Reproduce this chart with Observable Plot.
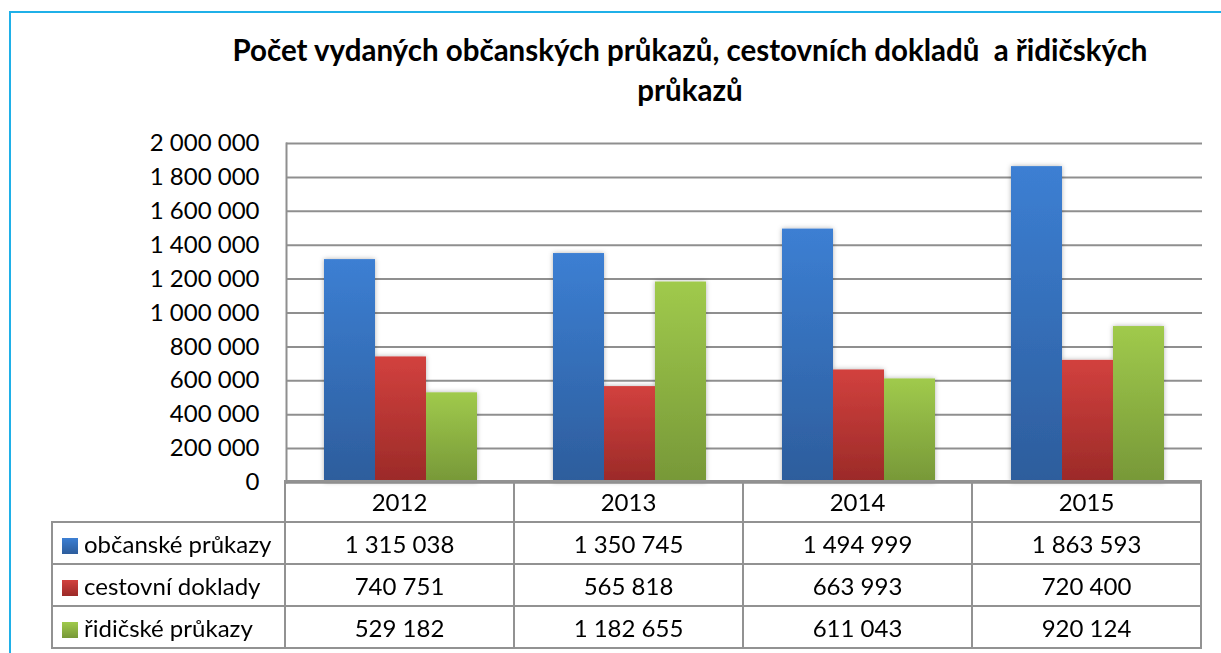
<!DOCTYPE html>
<html>
<head>
<meta charset="utf-8">
<script src="https://cdn.jsdelivr.net/npm/d3@7"></script>
<script src="https://cdn.jsdelivr.net/npm/@observablehq/plot@0.6"></script>
<style>
  html, body { margin: 0; padding: 0; background: #fff; width: 1221px; height: 653px; overflow: hidden; }
  body { position: relative; font-family: Lato, "Open Sans", sans-serif; color: #000; }
  #border { position: absolute; left: 9px; top: 11px; width: 1300px; height: 700px;
            border-left: 2px solid #1fb0e8; border-top: 2px solid #1fb0e8; }
  #title { position: absolute; left: 190px; width: 1000px; top: 30px; text-align: center;
           font-weight: bold; font-size: 29.5px; line-height: 40px; white-space: nowrap; }
  #chart { position: absolute; left: 0; top: 123px; }
  #table { position: absolute; border-collapse: collapse; table-layout: fixed; font-size: 24px; }
  #table td { border: 2px solid #929292; text-align: center; padding: 0; height: 40px; white-space: nowrap; }
  #table tr.hdr td { height: 39px; }
  #table td.lab { text-align: left; padding-left: 9px; }
  #table td.empty { border-top: none; border-left: none; }
  .sw { display: inline-block; width: 16px; height: 16px; margin-right: 6px; vertical-align: -1px; }
</style>
</head>
<body>
<div id="border"></div>
<div id="title">Počet vydaných občanských průkazů, cestovních dokladů&nbsp; a řidičských<br>průkazů</div>
<div id="chart"></div>
<table id="table"></table>
<script>
const years = ["2012", "2013", "2014", "2015"];
const series = ["občanské průkazy", "cestovní doklady", "řidičské průkazy"];
const obcanske = [1315038, 1350745, 1494999, 1863593];
const cestovni = [740751, 565818, 663993, 720400];
const ridicske = [529182, 1182655, 611043, 920124];
const yTicks = [0, 200000, 400000, 600000, 800000, 1000000, 1200000, 1400000, 1600000, 1800000, 2000000];

const gradients = [
  {id: "gBlue", top: "#3c7fd3", bottom: "#2d5d9c"},
  {id: "gRed", top: "#d2413e", bottom: "#9b2a28"},
  {id: "gGreen", top: "#a0ca4c", bottom: "#779838"}
];

const values = [obcanske, cestovni, ridicske];
const data = years.flatMap((yr, i) => series.map((s, j) => ({year: yr, series: s, value: values[j][i]})));
const fmt = d => d3.format(",")(d).replace(/,/g, " ");

const plot = Plot.plot({
  width: 1221,
  height: 360,
  marginLeft: 285,
  marginRight: 19,
  marginTop: 20,
  marginBottom: 1,
  style: {fontFamily: "Lato, 'Open Sans', sans-serif", fontSize: "24px", color: "#000", background: "transparent", overflow: "visible"},
  fx: {domain: years, padding: 0, axis: null},
  x: {domain: series, paddingInner: 0, paddingOuter: 0.72, axis: null},
  y: {domain: [0, 2000000]},
  color: {domain: series, range: gradients.map(g => `url(#${g.id})`)},
  marks: [
    Plot.gridY(yTicks, {stroke: "#8f8f8f", strokeOpacity: 1, strokeWidth: 2}),
    Plot.axisY(yTicks, {tickSize: 0, tickPadding: 27, tickFormat: fmt, fill: "#000", label: null}),
    Plot.barY(data, {fx: "year", x: "series", y: "value", fill: "series"}),
    Plot.ruleY([0], {stroke: "#8f8f8f", strokeWidth: 2}),
    Plot.frame({anchor: "left", facetAnchor: "left", stroke: "#8f8f8f", strokeWidth: 2})
  ]
});

// gradient & shadow defs
const ns = "http://www.w3.org/2000/svg";
const defs = document.createElementNS(ns, "defs");
gradients.forEach(g => {
  const lg = document.createElementNS(ns, "linearGradient");
  lg.setAttribute("id", g.id);
  lg.setAttribute("x1", "0"); lg.setAttribute("y1", "0");
  lg.setAttribute("x2", "0"); lg.setAttribute("y2", "1");
  [[0, g.top], [1, g.bottom]].forEach(([o, c]) => {
    const st = document.createElementNS(ns, "stop");
    st.setAttribute("offset", o); st.setAttribute("stop-color", c);
    lg.appendChild(st);
  });
  defs.appendChild(lg);
});
const filt = document.createElementNS(ns, "filter");
filt.setAttribute("id", "shadow");
filt.setAttribute("x", "-20%"); filt.setAttribute("y", "-5%");
filt.setAttribute("width", "140%"); filt.setAttribute("height", "110%");
const ds = document.createElementNS(ns, "feDropShadow");
ds.setAttribute("dx", "0"); ds.setAttribute("dy", "0");
ds.setAttribute("stdDeviation", "2.5"); ds.setAttribute("flood-opacity", "0.3");
filt.appendChild(ds);
defs.appendChild(filt);
plot.insertBefore(defs, plot.firstChild);
plot.querySelectorAll('g[aria-label="bar"]').forEach(g => g.setAttribute("filter", "url(#shadow)"));
document.getElementById("chart").appendChild(plot);

// data table aligned with the fx scale
const fx = plot.scale("fx");
const step = fx.bandwidth ?? ((fx.range[1] - fx.range[0]) / years.length);
const left0 = fx.range[0];
const table = document.getElementById("table");
const firstW = left0 - 52;
table.style.left = (52 - 1) + "px";
table.style.top = (123 + 360 - 1 - 1 - 1) + "px";
const colgroup = document.createElement("colgroup");
[firstW, ...years.map(() => step)].forEach(w => {
  const c = document.createElement("col"); c.style.width = w + "px"; colgroup.appendChild(c);
});
table.appendChild(colgroup);
table.style.width = (firstW + step * years.length) + "px";
const hdr = document.createElement("tr"); hdr.className = "hdr";
const e = document.createElement("td"); e.className = "empty"; hdr.appendChild(e);
years.forEach(y => { const td = document.createElement("td"); td.textContent = y; hdr.appendChild(td); });
table.appendChild(hdr);
series.forEach((s, j) => {
  const tr = document.createElement("tr");
  const lab = document.createElement("td"); lab.className = "lab";
  const sw = document.createElement("span"); sw.className = "sw";
  sw.style.background = `linear-gradient(${gradients[j].top}, ${gradients[j].bottom})`;
  lab.appendChild(sw); lab.appendChild(document.createTextNode(s));
  tr.appendChild(lab);
  values[j].forEach(v => { const td = document.createElement("td"); td.textContent = fmt(v); tr.appendChild(td); });
  table.appendChild(tr);
});
</script>
</body>
</html>
